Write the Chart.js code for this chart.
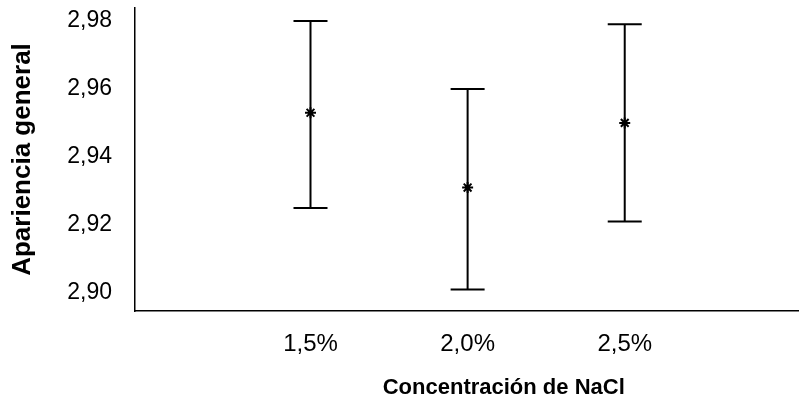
<!DOCTYPE html>
<html>
<head>
<meta charset="utf-8">
<script src="https://cdn.jsdelivr.net/npm/chart.js@4"></script>
<style>
  html, body { margin: 0; padding: 0; background: #fff; overflow: hidden; }
  #wrap { width: 799px; height: 405px; overflow: hidden; }
  #box { width: 880px; height: 405px; }
</style>
</head>
<body>
<div id="wrap"><div id="box"><canvas id="chart1"></canvas></div></div>
<script>
  // data
  const categories = ['1,5%', '2,0%', '2,5%']
  const means = [2.953, 2.931, 2.950]
  const upper = [2.980, 2.960, 2.979]
  const lower = [2.925, 2.901, 2.921]
  const yTicks = [2.90, 2.92, 2.94, 2.96, 2.98]

  const context = document.getElementById('chart1').getContext('2d')

  // vertical error bars with caps, drawn through the chart scales
  const errorBars = {
    id: 'errorBars',
    afterDatasetsDraw(chart) {
      const ctx = chart.ctx
      const x = chart.scales.x, y = chart.scales.y
      ctx.save()
      ctx.strokeStyle = '#000'
      ctx.lineWidth = 2
      categories.forEach((c, i) => {
        const px = x.getPixelForValue(i + 1)
        const top = y.getPixelForValue(upper[i])
        const bot = y.getPixelForValue(lower[i])
        ctx.beginPath()
        ctx.moveTo(px, top); ctx.lineTo(px, bot)
        ctx.moveTo(px - 17, top); ctx.lineTo(px + 17, top)
        ctx.moveTo(px - 17, bot); ctx.lineTo(px + 17, bot)
        ctx.stroke()
      })
      ctx.restore()
    }
  }

  const config = {
    type: 'scatter',
    data: {
      datasets: [{
        data: means.map((v, i) => ({ x: i + 1, y: v })),
        pointStyle: 'star',
        pointRadius: 5.5,
        borderColor: '#000',
        backgroundColor: '#000',
        borderWidth: 2
      }]
    },
    options: {
      responsive: true,
      maintainAspectRatio: false,
      animation: false,
      layout: { padding: { top: 8, left: 0, right: 0, bottom: 0 } },
      plugins: { legend: { display: false }, tooltip: { enabled: false } },
      scales: {
        x: {
          type: 'linear',
          min: -0.117,
          max: 4.577,
          grid: { display: false, drawTicks: false },
          border: { display: true, color: '#000', width: 1.5 },
          afterBuildTicks: s => { s.ticks = categories.map((c, i) => ({ value: i + 1 })) },
          afterFit: s => { s.height = 94; s.paddingLeft = 0; s.paddingRight = 0 },
          ticks: {
            color: '#000',
            padding: 19,
            autoSkip: false,
            maxRotation: 0,
            font: { family: 'Liberation Sans, Arial', size: 24 },
            callback: v => categories[v - 1]
          },
          title: {
            display: true,
            text: 'Concentración de NaCl',
            color: '#000',
            padding: { top: 0, bottom: 4 },
            font: { family: 'Liberation Sans, Arial', size: 22, weight: 'bold' }
          }
        },
        y: {
          min: 2.8947,
          max: 2.9838,
          grid: { display: false, drawTicks: false },
          border: { display: true, color: '#000', width: 1.5 },
          afterBuildTicks: s => { s.ticks = yTicks.map(v => ({ value: v })) },
          afterFit: s => { s.width = 135; s.paddingTop = 0; s.paddingBottom = 0 },
          ticks: {
            color: '#000',
            padding: 23,
            font: { family: 'Liberation Sans, Arial', size: 23 },
            callback: v => v.toFixed(2).replace('.', ',')
          },
          title: {
            display: true,
            text: 'Apariencia general',
            color: '#000',
            padding: { top: 7, bottom: 0 },
            font: { family: 'Liberation Sans, Arial', size: 26, weight: 'bold' }
          }
        }
      }
    },
    plugins: [errorBars]
  }
  const myChart = new Chart(context, config)
</script>
</body>
</html>
